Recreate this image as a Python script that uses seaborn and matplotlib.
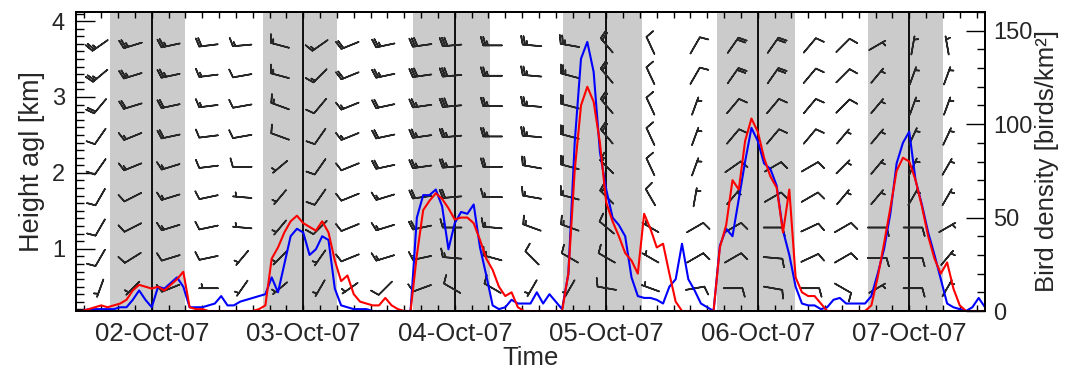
import numpy as np
import pandas as pd
import matplotlib
matplotlib.use("Agg")
import matplotlib.pyplot as plt
import matplotlib.dates as mdates
from matplotlib.ticker import MultipleLocator
import seaborn as sns

# ---------------- data ----------------
series_start = "2007-10-01 12:00"   # hourly samples
blue_density = [
    0, 0, 1, 1, 1, 1, 1, 2, 2, 6,
    11, 6, 2, 13, 12, 15, 18, 13, 2, 2,
    2, 3, 4, 8, 3, 3, 5, 6, 7, 8,
    9, 18, 10, 25, 40, 44, 42, 30, 33, 40,
    38, 12, 3, 2, 1, 1, 1, 0, 0, 0,
    0, 0, 0, 0, 50, 62, 62, 65, 56, 33,
    47, 53, 52, 57, 34, 19, 3, 1, 2, 6,
    4, 4, 4, 10, 4, 9, 5, 1, 20, 90,
    135, 144, 128, 85, 65, 50, 46, 40, 18, 8,
    7, 7, 6, 4, 13, 17, 36, 17, 11, 4,
    2, 0, 35, 44, 40, 60, 80, 98, 91, 79,
    76, 67, 43, 30, 13, 4, 3, 3, 1, 2,
    6, 7, 4, 4, 4, 4, 8, 20, 33, 52,
    79, 90, 96, 70, 57, 42, 30, 17, 4, 2,
    1, 0, 2, 7, 2,
]
red_density = [
    0, 0, 1, 2, 3, 2, 3, 4, 6, 11,
    14, 13, 12, 13, 11, 14, 17, 21, 2, 1,
    1, 0, 0, 0, 0, 0, 0, 0, 0, 1,
    3, 28, 34, 42, 48, 51, 47, 45, 43, 48,
    42, 27, 16, 19, 9, 5, 4, 3, 3, 7,
    3, 1, 0, 0, 30, 54, 59, 63, 60, 55,
    49, 50, 50, 47, 38, 28, 22, 13, 8, 10,
    2, 0, 0, 0, 0, 0, 0, 0, 20, 75,
    110, 120, 112, 90, 58, 48, 40, 31, 27, 20,
    52, 44, 34, 36, 20, 5, 0, 0, 0, 0,
    0, 0, 34, 46, 70, 65, 91, 103, 96, 82,
    72, 66, 42, 65, 18, 10, 8, 8, 4, 0,
    0, 0, 0, 0, 0, 0, 3, 18, 36, 55,
    75, 82, 80, 70, 56, 40, 28, 20, 26, 12,
    3, 0, 0, 0, 0,
]

night_start = ["2007-10-01 17:22", "2007-10-02 17:37", "2007-10-03 17:22",
               "2007-10-04 17:10", "2007-10-05 17:33", "2007-10-06 17:28"]
night_end = ["2007-10-02 05:16", "2007-10-03 05:21", "2007-10-04 05:36",
             "2007-10-05 05:40", "2007-10-06 05:54", "2007-10-07 05:21"]
midnights = ["2007-10-02", "2007-10-03", "2007-10-04",
             "2007-10-05", "2007-10-06", "2007-10-07"]

# wind profiles (one list per time; entries = heights from top to bottom)
barb_times = ["2007-10-01 15:50", "2007-10-01 21:00", "2007-10-02 03:00", "2007-10-02 09:00",
              "2007-10-02 14:20", "2007-10-02 20:20", "2007-10-03 02:40", "2007-10-03 07:25",
              "2007-10-03 13:00", "2007-10-03 18:50", "2007-10-03 23:35", "2007-10-04 06:00",
              "2007-10-04 12:15", "2007-10-04 18:15", "2007-10-05 00:05", "2007-10-05 07:00",
              "2007-10-05 14:05", "2007-10-05 20:05", "2007-10-06 02:25", "2007-10-06 08:15",
              "2007-10-06 13:30", "2007-10-06 18:55", "2007-10-07 00:35", "2007-10-07 06:00"]
barb_heights_km = [3.68, 3.28, 2.88, 2.48, 2.08, 1.68, 1.28, 0.88, 0.48]
wind_dir = [
    [235, 230, 220, 215, 215, 210, 210, 210, 200],
    [253, 253, 253, 248, 248, 243, 243, 238, 225],
    [258, 258, 258, 258, 253, 253, 253, 253, 248],
    [263, 263, 263, 263, 263, 258, 258, 258, 270],
    [265, 260, 260, 260, 270, 275, 275, 220, 215],
    [285, 285, 290, 290, 230, 220, 220, 225, 230],
    [235, 225, 220, 215, 215, 215, 225, 215, 210],
    [248, 248, 248, 248, 248, 248, 248, 248, 235],
    [258, 258, 258, 258, 258, 253, 253, 253, 225],
    [262, 262, 262, 262, 262, 262, 258, 258, 250],
    [265, 265, 265, 265, 265, 265, 270, 275, 300],
    [270, 270, 270, 270, 270, 270, 275, 285, 300],
    [275, 275, 275, 275, 280, 280, 290, 315, 210],
    [280, 285, 285, 285, 285, 285, 290, 300, 210],
    [320, 320, 320, 320, 315, 315, 310, 300, 280],
    [335, 335, 335, 335, 335, 330, 300, 300, 290],
    [30, 30, 20, 20, 20, 10, 60, 60, 80],
    [35, 35, 40, 40, 55, 40, 60, 60, 90],
    [35, 35, 40, 40, 60, 60, 90, 95, 100],
    [40, 40, 40, 40, 60, 60, 65, 65, 90],
    [45, 45, 45, 40, 45, 40, 60, 60, 120],
    [60, 40, 40, 40, 40, 40, 90, 90, 60],
    [10, 20, 20, 25, 25, 30, 90, 90, 90],
    [350, 20, 20, 25, 30, 30, 60, 40, 30],
]
wind_speed = [
    [25, 25, 20, 10, 10, 10, 10, 10, 5],
    [25, 25, 20, 15, 15, 10, 10, 10, 5],
    [25, 25, 20, 20, 15, 15, 15, 10, 10],
    [20, 15, 15, 10, 10, 10, 10, 10, 5],
    [15, 10, 10, 10, 10, 5, 5, 5, 5],
    [15, 15, 15, 10, 5, 5, 5, 5, 5],
    [15, 15, 10, 10, 10, 10, 10, 5, 5],
    [20, 20, 15, 15, 10, 10, 10, 10, 5],
    [25, 25, 20, 20, 20, 15, 15, 15, 10],
    [30, 30, 25, 25, 25, 20, 20, 15, 10],
    [30, 30, 30, 25, 25, 20, 15, 15, 10],
    [25, 25, 25, 25, 20, 15, 15, 15, 10],
    [25, 25, 25, 25, 20, 15, 15, 10, 5],
    [25, 25, 20, 20, 20, 15, 15, 10, 5],
    [20, 20, 20, 20, 15, 15, 10, 10, 10],
    [10, 10, 10, 10, 10, 10, 5, 5, 5],
    [10, 10, 5, 5, 5, 5, 10, 10, 10],
    [20, 20, 10, 10, 10, 5, 10, 10, 10],
    [20, 20, 10, 10, 10, 10, 10, 10, 10],
    [10, 10, 10, 10, 10, 10, 10, 10, 10],
    [10, 10, 10, 5, 5, 5, 10, 10, 10],
    [5, 5, 5, 5, 5, 5, 10, 10, 5],
    [5, 5, 5, 5, 5, 5, 10, 10, 10],
    [5, 5, 5, 5, 5, 5, 5, 5, 5],
]

x_start = "2007-10-01 12:00"
x_end = "2007-10-07 12:00"


def dnum(t):
    """Convert time strings to matplotlib day numbers."""
    return mdates.date2num(pd.to_datetime(t))


# ---------------- figure ----------------
sns.set_theme(style="white")
plt.rcParams['font.family'] = ['Liberation Sans', 'DejaVu Sans']

fig = plt.figure(figsize=(10.65, 3.75), dpi=100)
ax = fig.add_axes([76 / 1065, 64 / 375, 909 / 1065, 299 / 375])

for s, e in zip(night_start, night_end):
    ax.axvspan(dnum(s), dnum(e), color='#cbcbcb', lw=0, zorder=0)
for m in midnights:
    ax.axvline(dnum(m), color='black', lw=1.3, zorder=1)

bt = dnum(barb_times)
X, Y = np.meshgrid(bt, barb_heights_km)
D = np.deg2rad(np.array(wind_dir, dtype=float).T)
S = np.array(wind_speed, dtype=float).T
U = -S * np.sin(D)
V = -S * np.cos(D)
ax.barbs(X, Y, U, V, length=5.2, pivot='middle', color='#262626',
         linewidth=1.15, sizes=dict(height=0.45), zorder=3)

ax.set_xlim(dnum(x_start), dnum(x_end))
ax.set_ylim(0.18, 4.12)
ax.yaxis.set_major_locator(MultipleLocator(1))
ax.yaxis.set_minor_locator(MultipleLocator(0.1))

ax.tick_params(axis='x', which='both', direction='in', top=True, bottom=True,
               length=4, width=1, color='black', labelsize=18.5, pad=8)
ax.tick_params(axis='y', which='major', direction='in', left=True, length=14,
               width=1, color='black', labelsize=17, pad=8)
ax.tick_params(axis='y', which='minor', direction='in', left=True, length=6,
               width=1, color='black')
ax.set_ylabel('Height agl [km]', fontsize=19.5, labelpad=5)
ax.set_xlabel('Time', fontsize=18.5, labelpad=0)

# bird density on the right axis
ax2 = ax.twinx()
times = dnum(pd.date_range(series_start, periods=len(blue_density), freq='h'))
df = pd.DataFrame({
    'time': np.concatenate([times, times]),
    'density': blue_density + red_density,
    'series': ['blue'] * len(blue_density) + ['red'] * len(red_density),
})
sns.lineplot(data=df, x='time', y='density', hue='series',
             palette={'blue': '#0000ff', 'red': '#ff0000'},
             estimator=None, linewidth=1.5, legend=False, ax=ax2)
ax2.set_ylim(0, 160)
ax2.set_xlim(dnum(x_start), dnum(x_end))
ax2.yaxis.set_major_locator(MultipleLocator(50))
ax2.yaxis.set_minor_locator(MultipleLocator(10))
ax2.tick_params(axis='y', which='major', direction='in', right=True, length=14,
                width=1, color='black', labelsize=17, pad=6)
ax2.tick_params(axis='y', which='minor', direction='in', right=True, length=6,
                width=1, color='black')
ax2.set_ylabel('Bird density [birds/km²]', fontsize=18.5, labelpad=2)
ax2.set_xlabel('')

ax.xaxis.set_major_locator(mdates.DayLocator())
ax.xaxis.set_major_formatter(mdates.DateFormatter('%d-%b-%y'))
ax.xaxis.set_minor_locator(MultipleLocator(1 / 9))

for a in (ax, ax2):
    for sp in a.spines.values():
        sp.set_color('black')
        sp.set_linewidth(1.3)
        sp.set_visible(True)

fig.savefig('out.png', dpi=100)
